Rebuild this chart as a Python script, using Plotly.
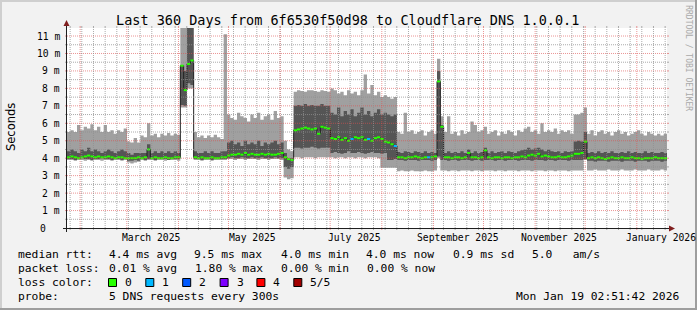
import plotly.graph_objects as go
from datetime import datetime, timedelta

# ---------------- data ----------------
END_TIME = datetime(2026, 1, 19, 2, 51, 42)
SPAN_DAYS = 360
BIN_DAYS = 2

# light smoke top (max rtt, ms)
rtt_max = [
    5.5, 5.6, 5.5, 5.9, 5.6, 5.8, 5.7, 5.95, 5.6, 5.8, 5.5, 5.9, 5.5, 5.6, 5.4, 5.6, 5.5, 5.7,
    4.95, 4.9, 5.15, 4.9,
    5.3, 5.2, 6.0, 5.3, 5.4, 5.2, 5.4, 5.3, 5.45, 5.3, 5.4, 5.35,
    12, 12, 12, 12,
    5.5, 5.2, 5.3, 5.15, 5.3, 5.2, 5.35, 5.2, 5.1,
    11.1,
    6.5, 6.3, 6.2, 6.6, 6.4, 6.3, 6.1, 6.5, 6.3, 6.6, 6.2, 6.4, 6.5, 6.2, 6.7, 6.3, 6.4,
    5.0, 4.5, 4.4,
    7.8, 7.9, 7.85, 7.8, 7.9, 7.9, 7.85, 7.8, 7.9, 7.85, 7.8,
    8.0, 7.9, 7.7, 7.8, 7.6, 7.9, 7.7, 7.8, 7.6, 7.9, 8.8, 7.7, 8.2, 7.6, 7.8, 7.5, 7.6,
    7.5, 7.4, 7.5,
    5.5, 5.4, 6.6, 5.5, 5.6, 5.4, 5.5, 5.6, 5.3, 5.5, 5.6, 5.4,
    9.7, 6.4,
    5.5, 6.4, 5.4, 5.5, 5.3, 5.6, 5.4, 5.5, 6.1, 5.9,
    5.5, 5.6, 5.8, 5.4, 5.5, 5.6, 5.3, 5.5, 5.4, 5.6,
    5.5, 5.3, 5.6, 5.5, 5.7, 5.8, 5.5, 5.6, 5.4, 6.0,
    5.5, 5.6, 5.5, 5.7, 5.4, 5.6, 5.5, 5.6, 5.4,
    6.5, 6.5, 6.6, 6.9,
    5.4, 5.6, 5.3, 5.5, 5.6, 5.4, 5.5, 5.3, 5.5, 5.6, 5.4, 5.5,
    5.3, 5.4, 5.5, 5.6, 5.4, 5.3, 5.5, 5.4, 5.3, 5.4, 5.3, 5.4,
]

# dark smoke top (ms)
rtt_upper = [
    4.4, 4.5, 4.4, 4.3, 4.5, 4.4, 4.6, 4.4, 4.5, 4.4, 4.3, 4.4, 4.5, 4.4, 4.3, 4.4, 4.5, 4.4,
    4.3, 4.2, 4.3, 4.3,
    4.3, 4.3, 4.8, 4.3, 4.4, 4.3, 4.4, 4.3, 4.4, 4.3, 4.4, 4.3,
    9.3, 9.0, 12, 12,
    4.4, 4.3, 4.3, 4.4, 4.3, 4.4, 4.3, 4.3, 4.4,
    4.4,
    4.9, 5.0, 4.8, 4.9, 4.7, 5.0, 4.8, 4.9, 4.8, 5.0, 4.7, 4.9, 4.8, 4.9, 5.0, 4.8, 4.9,
    4.3, 4.0, 4.0,
    7.0, 7.05, 7.0, 7.1, 7.0, 7.05, 7.0, 7.0, 7.1, 7.0, 7.0,
    6.6, 6.5, 6.9, 6.4, 6.7, 6.5, 6.8, 6.4, 6.6, 6.9, 6.5, 6.7, 6.4, 6.6, 6.8, 6.5, 6.6,
    6.5, 6.4, 6.5,
    4.35, 4.3, 4.4, 4.35, 4.3, 4.4, 4.35, 4.3, 4.4, 4.3, 4.35, 4.3,
    9.0, 5.9,
    4.3, 4.4, 4.3, 4.35, 4.3, 4.4, 4.3, 4.5, 4.3, 4.4,
    4.3, 4.35, 4.6, 4.3, 4.4, 4.3, 4.35, 4.4, 4.3, 4.4,
    4.35, 4.3, 4.4, 4.45, 4.5, 4.6, 4.5, 4.55, 4.6, 4.5,
    4.4, 4.5, 4.4, 4.35, 4.4, 4.3, 4.4, 4.35, 4.4,
    4.95, 5.0, 4.95, 5.5,
    4.3, 4.35, 4.3, 4.4, 4.3, 4.35, 4.3, 4.4, 4.3, 4.3, 4.35, 4.3,
    4.4, 4.3, 4.35, 4.3, 4.3, 4.4, 4.3, 4.35, 4.3, 4.3, 4.35, 4.3,
]

# median rtt (ms)
rtt_median = [
    4.05, 4.1, 4.05, 4.0, 4.05, 4.1, 4.15, 4.1, 4.05, 4.1, 4.05, 4.05, 4.1, 4.05, 4.0, 4.05, 4.05, 4.0,
    4.0, 4.0, 4.0, 4.05,
    4.0, 4.05, 4.5, 4.0, 4.05, 4.0, 4.0, 4.05, 4.0, 4.0, 4.05, 4.05,
    9.3, 7.9, 9.4, 9.6,
    4.05, 4.0, 4.05, 4.0, 4.0, 4.05, 4.0, 4.0, 4.05,
    4.05,
    4.15, 4.2, 4.2, 4.25, 4.2, 4.3, 4.2, 4.25, 4.2, 4.2, 4.25, 4.2, 4.25, 4.2, 4.2, 4.25, 4.3,
    4.05, 3.95, 3.9,
    5.6, 5.65, 5.7, 5.75, 5.7, 5.65, 5.7, 5.4, 5.8, 5.75, 5.7,
    5.15, 5.1, 5.2, 5.05, 5.15, 5.0, 5.1, 5.2, 5.15, 5.2, 5.05, 5.1, 5.0, 5.15, 5.2, 5.1, 4.95,
    4.9, 4.8, 4.7,
    4.05, 4.05, 4.0, 4.05, 4.05, 4.1, 4.05, 4.0, 4.05, 4.05, 4.05, 4.1,
    8.4, 5.8,
    4.05, 4.05, 4.0, 4.05, 4.05, 4.0, 4.05, 4.3, 4.05, 4.05,
    4.0, 4.05, 4.45, 4.05, 4.0, 4.05, 4.05, 4.0, 4.05, 4.05,
    4.0, 4.05, 4.05, 4.1, 4.05, 4.15, 4.2, 4.15, 4.25, 4.1,
    4.15, 4.1, 4.05, 4.05, 4.1, 4.05, 4.05, 4.1, 4.15,
    4.25, 4.25, 4.3, 4.95,
    4.0, 4.05, 4.0, 4.05, 4.0, 3.95, 4.0, 4.05, 4.0, 4.0, 4.05, 4.0,
    4.0, 4.05, 4.0, 4.0, 3.95, 4.0, 4.0, 4.0, 4.05, 4.0, 4.0, 4.0,
]

# dark smoke bottom (ms)
rtt_lower = [
    3.95, 3.95, 3.9, 3.95, 4.0, 3.95, 3.95, 3.9, 3.95, 3.95, 4.0, 3.95, 3.95, 3.9, 3.95, 3.95, 3.9, 3.95,
    3.85, 3.85, 3.9, 3.85,
    3.95, 3.9, 3.95, 3.95, 3.9, 3.95, 3.95, 3.95, 3.9, 3.95, 3.95, 3.95,
    7.05, 7.0, 8.3, 8.2,
    3.95, 3.95, 3.9, 3.95, 3.95, 3.9, 3.95, 3.95, 3.95,
    3.95,
    4.0, 4.05, 4.0, 4.0, 4.05, 4.0, 4.0, 4.05, 4.0, 4.0, 4.05, 4.0, 4.0, 4.0, 4.05, 4.0, 4.0,
    3.5, 3.4, 3.5,
    4.6, 4.6, 4.55, 4.6, 4.6, 4.65, 4.6, 4.55, 4.6, 4.6, 4.6,
    4.3, 4.35, 4.3, 4.25, 4.3, 4.4, 4.3, 4.3, 4.35, 4.3, 4.25, 4.3, 4.35, 4.3, 4.3, 4.25, 4.3,
    3.9, 3.9, 3.95,
    3.9, 3.9, 3.85, 3.9, 3.9, 3.9, 3.85, 3.9, 3.9, 3.9, 3.85, 3.9,
    4.1, 3.9,
    3.9, 3.85, 3.9, 3.9, 3.85, 3.9, 3.9, 3.9, 3.85, 3.9,
    3.9, 3.85, 3.9, 3.9, 3.9, 3.85, 3.9, 3.9, 3.85, 3.9,
    3.9, 3.9, 3.85, 3.9, 3.9, 3.9, 3.85, 3.9, 3.9, 3.9,
    3.85, 3.9, 3.9, 3.85, 3.9, 3.9, 3.9, 3.85, 3.9,
    3.9, 3.9, 3.9, 3.95,
    3.85, 3.85, 3.8, 3.85, 3.85, 3.85, 3.8, 3.85, 3.85, 3.85, 3.8, 3.85,
    3.85, 3.85, 3.8, 3.85, 3.85, 3.85, 3.8, 3.85, 3.85, 3.85, 3.8, 3.85,
]

# light smoke bottom (min rtt, ms)
rtt_min = [
    3.9, 3.9, 3.85, 3.9, 3.9, 3.85, 3.9, 3.85, 3.9, 3.9, 3.85, 3.9, 3.9, 3.85, 3.9, 3.9, 3.85, 3.9,
    3.75, 3.7, 3.75, 3.8,
    3.9, 3.85, 3.9, 3.9, 3.85, 3.9, 3.9, 3.85, 3.9, 3.9, 3.9, 3.85,
    6.9, 6.9, 8.0, 8.0,
    3.9, 3.9, 3.85, 3.9, 3.9, 3.85, 3.9, 3.9, 3.9,
    3.9,
    3.95, 3.95, 3.9, 3.95, 3.95, 3.9, 3.95, 3.95, 3.95, 3.9, 3.95, 3.95, 3.9, 3.95, 3.95, 3.95, 3.9,
    2.9, 2.8, 2.85,
    4.05, 4.05, 4.0, 4.05, 4.05, 4.05, 4.0, 4.05, 4.05, 4.05, 4.05,
    4.05, 4.0, 4.05, 4.05, 4.0, 4.05, 4.05, 4.0, 4.05, 4.05, 4.0, 4.05, 4.05, 4.05, 4.0, 3.45, 3.45,
    3.45, 3.45, 3.45,
    3.25, 3.3, 3.25, 3.25, 3.3, 3.25, 3.25, 3.25, 3.3, 3.25, 3.25, 3.3,
    4.0, 3.3,
    3.3, 3.25, 3.3, 3.3, 3.25, 3.3, 3.3, 3.3, 3.25, 3.3,
    3.3, 3.25, 3.3, 3.3, 3.3, 3.25, 3.3, 3.3, 3.25, 3.3,
    3.3, 3.3, 3.25, 3.3, 3.3, 3.3, 3.25, 3.3, 3.3, 3.3,
    3.25, 3.3, 3.3, 3.25, 3.3, 3.3, 3.3, 3.25, 3.3,
    3.3, 3.3, 3.3, 3.9,
    3.3, 3.3, 3.35, 3.3, 3.3, 3.3, 3.35, 3.3, 3.3, 3.3, 3.35, 3.3,
    3.3, 3.3, 3.35, 3.3, 3.3, 3.3, 3.35, 3.3, 3.3, 3.3, 3.35, 3.3,
]

# lost pings per bin (of 5)
loss = [
    0, 0, 0, 0, 0, 0, 0, 0, 0, 0, 0, 0, 0, 0, 0, 0, 0, 0, 0, 0,
    0, 0, 0, 0, 0, 0, 0, 0, 0, 0, 0, 0, 0, 0, 0, 0, 0, 0, 0, 0,
    0, 0, 0, 0, 0, 0, 0, 0, 0, 0, 0, 0, 0, 0, 0, 0, 0, 0, 0, 0,
    0, 0, 0, 0, 0, 0, 0, 0, 0, 0, 0, 0, 0, 0, 0, 0, 0, 0, 0, 0,
    0, 0, 0, 0, 0, 1, 0, 0, 0, 0, 1, 0, 0, 0, 0, 0, 0, 0, 1, 0,
    0, 0, 0, 0, 0, 0, 0, 0, 1, 0, 0, 0, 0, 0, 0, 0, 0, 0, 0, 0,
    0, 0, 0, 0, 0, 0, 0, 0, 0, 0, 0, 0, 0, 0, 0, 0, 0, 0, 0, 0,
    0, 0, 0, 0, 0, 0, 0, 0, 0, 0, 0, 0, 0, 0, 0, 0, 0, 0, 0, 0,
    0, 0, 0, 0, 0, 0, 0, 0, 0, 0, 0, 0, 0, 0, 0, 0, 0, 0, 0, 0,
]

loss_levels = [0, 1, 2, 3, 4, 5]
loss_labels = ["0", "1", "2", "3", "4", "5/5"]
loss_colors = ["#26ff00", "#00b8ff", "#0059ff", "#7e00ff", "#ff0000", "#a10000"]

y_tick_values = [0, 1, 2, 3, 4, 5, 6, 7, 8, 9, 10, 11]
y_tick_labels = ["0", "1 m", "2 m", "3 m", "4 m", "5 m", "6 m", "7 m", "8 m", "9 m", "10 m", "11 m"]
month_label_dates = ["2025-03-15 12:00", "2025-05-15 12:00", "2025-07-15 12:00",
                     "2025-09-15 12:00", "2025-11-15 12:00", "2026-01-15 12:00"]
month_label_texts = ["March 2025", "May 2025", "July 2025",
                     "September 2025", "November 2025", "January 2026"]

N = SPAN_DAYS // BIN_DAYS
for arr in (rtt_max, rtt_upper, rtt_median, rtt_lower, rtt_min, loss):
    assert len(arr) == N, len(arr)

START_TIME = END_TIME - timedelta(days=SPAN_DAYS)
edges = [START_TIME + timedelta(days=BIN_DAYS * i) for i in range(N + 1)]


def closed(a):
    return list(a) + [a[-1]]


# ---------------- geometry helpers (plot area in px) ----------------
W, H = 697, 310
PL, PT, PW, PH = 67, 28, 600, 200
Y_MAX = 11.46


def px(x):
    return (x - PL) / PW


def py(y):
    return (PT + PH - y) / PH


MONO = "DejaVu Sans Mono"
SANS = "DejaVu Sans"
GRID = "rgba(143,143,143,0.75)"
MGRID = "rgba(222,79,79,0.6)"
AXIS = "#1f1f1f"
ARROW = "#801f1f"

fig = go.Figure()

# smoke: light band
fig.add_trace(go.Scatter(x=edges, y=closed(rtt_min), mode="lines", line=dict(width=0, shape="hv"),
                         hoverinfo="skip"))
fig.add_trace(go.Scatter(x=edges, y=closed(rtt_max), mode="lines", line=dict(width=0, shape="hv"),
                         fill="tonexty", fillcolor="#a0a0a0", hoverinfo="skip"))
# smoke: dark band
fig.add_trace(go.Scatter(x=edges, y=closed(rtt_lower), mode="lines", line=dict(width=0, shape="hv"),
                         hoverinfo="skip"))
fig.add_trace(go.Scatter(x=edges, y=closed(rtt_upper), mode="lines", line=dict(width=0, shape="hv"),
                         fill="tonexty", fillcolor="#555555", hoverinfo="skip"))
# median connector
fig.add_trace(go.Scatter(x=edges, y=closed(rtt_median), mode="lines",
                         line=dict(width=1, shape="hv", color="#202020"), hoverinfo="skip"))
# median coloured by loss
for lvl, col in zip(loss_levels, loss_colors):
    xs, ys = [], []
    for i in range(N):
        if loss[i] == lvl:
            xs += [edges[i], edges[i + 1], None]
            ys += [rtt_median[i], rtt_median[i], None]
    if xs:
        fig.add_trace(go.Scatter(x=xs, y=ys, mode="lines", line=dict(width=2, color=col),
                                 hoverinfo="skip"))

shapes = []
# horizontal grid
for k in range(1, 24):
    v = k * 0.5
    major = (k % 2 == 0)
    c = MGRID if major else GRID
    shapes.append(dict(type="line", xref="paper", yref="y", x0=0, x1=1, y0=v, y1=v,
                       line=dict(color=c, width=1, dash="1px,1px"), layer="above"))
    shapes.append(dict(type="line", xref="paper", yref="y", x0=px(PL - 2), x1=0, y0=v, y1=v,
                       line=dict(color=c, width=1), layer="above"))
    shapes.append(dict(type="line", xref="paper", yref="y", x0=1, x1=px(PL + PW + 2), y0=v, y1=v,
                       line=dict(color=c, width=1), layer="above"))

# vertical grid: weekly (Sundays) and monthly
weeks = []
d = datetime(2025, 1, 26)
while d < END_TIME:
    weeks.append(d)
    d += timedelta(days=7)
months = []
yy, mm = 2025, 2
while datetime(yy, mm, 1) < END_TIME:
    months.append(datetime(yy, mm, 1))
    mm += 1
    if mm > 12:
        mm, yy = 1, yy + 1
for dd, c in [(w, GRID) for w in weeks] + [(m, MGRID) for m in months]:
    shapes.append(dict(type="line", xref="x", yref="paper", x0=dd, x1=dd, y0=0, y1=1,
                       line=dict(color=c, width=1, dash="1px,1px"), layer="above"))
    shapes.append(dict(type="line", xref="x", yref="paper", x0=dd, x1=dd, y0=py(PT + PH + 2), y1=0,
                       line=dict(color=c, width=1), layer="above"))
    shapes.append(dict(type="line", xref="x", yref="paper", x0=dd, x1=dd, y0=1, y1=py(PT - 2),
                       line=dict(color=c, width=1), layer="above"))

# axes
shapes.append(dict(type="line", xref="paper", yref="paper", x0=px(63), x1=px(670), y0=py(228.5), y1=py(228.5),
                   line=dict(color=AXIS, width=1), layer="above"))
shapes.append(dict(type="line", xref="paper", yref="paper", x0=px(66.5), x1=px(66.5), y0=py(232), y1=py(25),
                   line=dict(color=AXIS, width=1), layer="above"))
shapes.append(dict(type="path", xref="paper", yref="paper",
                   path=f"M {px(669)} {py(225.5)} L {px(669)} {py(231.5)} L {px(675)} {py(228.5)} Z",
                   fillcolor=ARROW, line=dict(width=0), layer="above"))
shapes.append(dict(type="path", xref="paper", yref="paper",
                   path=f"M {px(63.5)} {py(26)} L {px(69.5)} {py(26)} L {px(66.5)} {py(20)} Z",
                   fillcolor=ARROW, line=dict(width=0), layer="above"))

# 3D frame
shapes.append(dict(type="rect", xref="paper", yref="paper", x0=px(0), x1=px(W), y0=py(0), y1=py(2),
                   fillcolor="#cfcfcf", line=dict(width=0), layer="above"))
shapes.append(dict(type="rect", xref="paper", yref="paper", x0=px(0), x1=px(2), y0=py(0), y1=py(H),
                   fillcolor="#cfcfcf", line=dict(width=0), layer="above"))
shapes.append(dict(type="rect", xref="paper", yref="paper", x0=px(0), x1=px(W), y0=py(H - 2), y1=py(H),
                   fillcolor="#9e9e9e", line=dict(width=0), layer="above"))
shapes.append(dict(type="rect", xref="paper", yref="paper", x0=px(W - 2), x1=px(W), y0=py(0), y1=py(H),
                   fillcolor="#9e9e9e", line=dict(width=0), layer="above"))

# legend colour boxes
box_x = [108, 145.3, 182.2, 219.6, 256.4, 293.3]
for bx, col in zip(box_x, loss_colors):
    shapes.append(dict(type="rect", xref="paper", yref="paper", x0=px(bx + 0.5), x1=px(bx + 8.5),
                       y0=py(278.5), y1=py(286.5), fillcolor=col, line=dict(color="#000000", width=1),
                       layer="above"))

ann = []


def text(t, x, y, size=11.3, anchor="left", family=MONO, color="#000000", angle=0, xref="paper"):
    ann.append(dict(text=t, x=x if xref != "paper" else px(x), y=py(y), xref=xref, yref="paper",
                    xanchor=anchor, yanchor="middle", showarrow=False, textangle=angle,
                    font=dict(family=family, size=size, color=color)))


# title
text("Last 360 Days from 6f6530f50d98 to Cloudflare DNS 1.0.0.1", 347.3, 20, size=13.5, anchor="center")
# y tick labels
for v, lab in zip(y_tick_values, y_tick_labels):
    right = 61.5 if v > 0 else 48
    text(lab, right, PT + PH - v * PH / Y_MAX, size=9.7, anchor="right")
# x labels
for dstr, lab in zip(month_label_dates, month_label_texts):
    text(lab, dstr, 237.7, size=9.7, anchor="center", xref="x")
# axis title
text("Seconds", 10.5, 127.5, size=11.5, anchor="center", family=SANS, angle=-90)
# watermark
text("RRDTOOL / TOBI OETIKER", 688.3, 58.5, size=8, anchor="center", color="#a9a9a9", angle=90)

# legend
L1, L2, L3, L4 = 254.3, 268.3, 282.3, 296.3
text("median rtt:", 16, L1)
for s, x in [("4.4 ms avg", 107), ("9.5 ms max", 192.4), ("4.0 ms min", 278.7),
             ("4.0 ms now", 364.4), ("0.9 ms sd", 451.1), ("5.0   am/s", 529.8)]:
    text(s, x, L1)
text("packet loss:", 16, L2)
for s, x in [("0.01 % avg", 107.1), ("1.80 % max", 192.9), ("0.00 % min", 279.1), ("0.00 % now", 364.9)]:
    text(s, x, L2)
text("loss color:", 16, L3)
for bx, lab in zip(box_x, loss_labels):
    text(lab, bx + 15, L3)
text("probe:", 16, L4)
text("5 DNS requests every 300s", 107.1, L4)
text("Mon Jan 19 02:51:42 2026", 681, L4, anchor="right")

fig.update_layout(
    width=W, height=H, autosize=False,
    margin=dict(l=PL, r=W - PL - PW, t=PT, b=H - PT - PH, pad=0),
    paper_bgcolor="#f2f2f2", plot_bgcolor="#ffffff",
    showlegend=False,
    xaxis=dict(range=[START_TIME, END_TIME], showgrid=False, zeroline=False, showticklabels=False,
               ticks="", showline=False, fixedrange=True),
    yaxis=dict(range=[0, Y_MAX], showgrid=False, zeroline=False, showticklabels=False,
               ticks="", showline=False, fixedrange=True),
    shapes=shapes, annotations=ann,
)

fig.write_html("out.html", include_plotlyjs=True, config={"displayModeBar": False, "staticPlot": True})
